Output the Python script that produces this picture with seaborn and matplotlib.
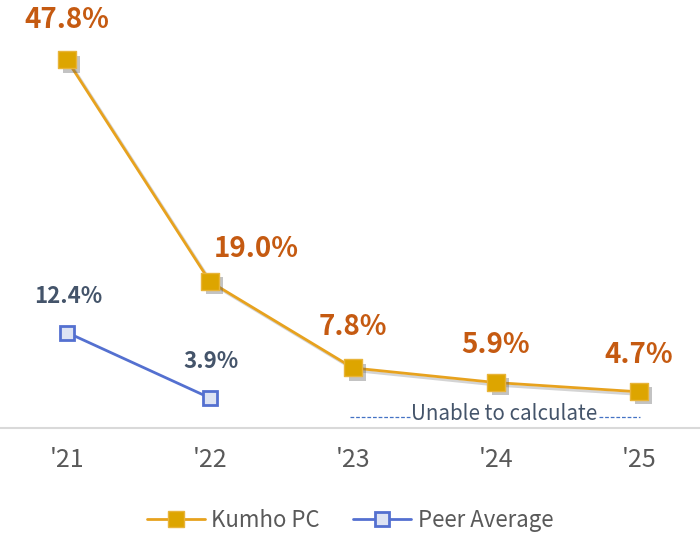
import matplotlib
matplotlib.use("Agg")
import matplotlib.pyplot as plt
import matplotlib.patheffects as pe
from matplotlib.lines import Line2D
import numpy as np
import pandas as pd
import seaborn as sns

years = ["'21", "'22", "'23", "'24", "'25"]
kumho = [47.8, 19.0, 7.8, 5.9, 4.7]
peer_years = ["'21", "'22"]
peer = [12.4, 3.9]
note = "Unable to calculate"

sns.set_theme(style="white")
plt.rcParams['font.family'] = ['Noto Sans CJK KR', 'DejaVu Sans']

fig = plt.figure(figsize=(7, 5.36), dpi=100)
ax = fig.add_axes([0, 1 - 428 / 536, 1, 428 / 536])

xk = np.arange(len(years))
xp = np.arange(len(peer_years))
df_k = pd.DataFrame({"x": xk, "y": kumho})
df_p = pd.DataFrame({"x": xp, "y": peer})

gold_line = "#E7A21E"
gold_face = "#DDA500"
blue = "#5470D0"

line_shadow = [pe.SimpleLineShadow(offset=(2, -2), alpha=0.25, shadow_color="#555555"), pe.Normal()]
box_shadow = [pe.SimplePatchShadow(offset=(3, -3), alpha=0.35, shadow_rgbFace="#555555"), pe.Normal()]

# Kumho PC line + markers with drop shadow
sns.lineplot(data=df_k, x="x", y="y", ax=ax, color=gold_line, lw=2,
             path_effects=line_shadow, legend=False)
sns.scatterplot(data=df_k, x="x", y="y", ax=ax, marker="s", s=150,
                color=gold_face, edgecolor="#E8B43A", linewidth=1,
                path_effects=box_shadow, zorder=5, legend=False)

# peer average
sns.lineplot(data=df_p, x="x", y="y", ax=ax, color=blue, lw=2,
             marker="s", markersize=10, markerfacecolor="#DDE3F3",
             markeredgecolor=blue, markeredgewidth=2, legend=False)

ax.set_xlim(-67 / 143, (700 - 67) / 143)
ax.set_ylim(0, 428 / 7.7)

# value labels
k_off = [(0, 40), (46, 33), (0, 41), (0, 38), (0, 37)]
for x, v, o in zip(xk, kumho, k_off):
    ax.annotate(f"{v:.1f}%", (x, v), xytext=o, textcoords="offset pixels",
                ha="center", va="center", fontsize=20, fontweight="bold",
                color="#C55A11")
for x, v in zip(xp, peer):
    ax.annotate(f"{v:.1f}%", (x, v), xytext=(1, 36), textcoords="offset pixels",
                ha="center", va="center", fontsize=16, fontweight="bold",
                color="#44546A")

# unable to calculate note
ax.text(3.06, 1.8, note, ha="center", va="center", fontsize=14.8, color="#44546A")
ax.plot([1.98, 2.40], [1.45, 1.45], color="#4472C4", lw=0.9, ls=(0, (3, 1.5)))
ax.plot([3.72, 4.01], [1.45, 1.45], color="#4472C4", lw=0.9, ls=(0, (3, 1.5)))

ax.set_xticks(xk)
ax.set_xticklabels(years, fontsize=18, color="#595959")
ax.set_yticks([])
ax.set_xlabel("")
ax.set_ylabel("")
ax.tick_params(axis="x", length=0, pad=14)
for s in ["top", "left", "right"]:
    ax.spines[s].set_visible(False)
ax.spines["bottom"].set_color("#D9D9D9")
ax.spines["bottom"].set_linewidth(1.5)

handles = [
    Line2D([], [], color=gold_line, lw=2, marker="s", markersize=12,
           markerfacecolor=gold_face, markeredgecolor="#E8B43A"),
    Line2D([], [], color=blue, lw=2, marker="s", markersize=10,
           markerfacecolor="#DDE3F3", markeredgecolor=blue, markeredgewidth=2),
]
leg = ax.legend(handles, ["Kumho PC", "Peer Average"], loc="center",
                bbox_to_anchor=(0.5, -0.215), ncol=2, frameon=False,
                fontsize=16, handlelength=2.6, columnspacing=1.5, handletextpad=0.3)
for t in leg.get_texts():
    t.set_color("#595959")

fig.savefig("out.png", dpi=100)
